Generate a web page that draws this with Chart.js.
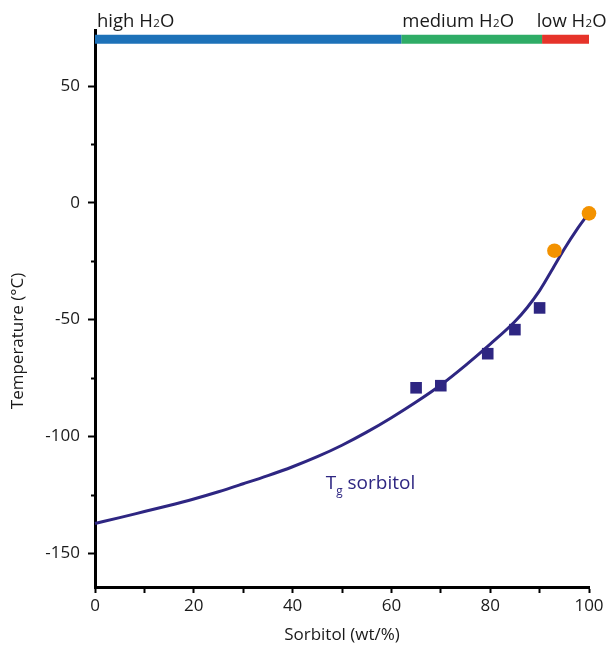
<!DOCTYPE html>
<html lang="en">
	<head>
		<meta charset="utf-8">
		<title>Sorbitol glass transition</title>
		<script src="https://cdn.jsdelivr.net/npm/chart.js"></script>
		<style>
			html, body { margin: 0; padding: 0; background: #fff; }
			#wrap { width: 610px; height: 647px; position: relative; }
		</style>
	</head>
	<body>
		<div id="wrap"><canvas id="chart"></canvas></div>
		<script>
			// Tg curve of sorbitol (wt %, °C)
			const curveX = [0, 5, 10, 15, 20, 25, 30, 35, 40, 45, 50, 55, 60, 65, 70, 75, 80, 85, 87.5, 90, 92.5, 95, 97.5, 100]
			const curveY = [-137.3, -134.8, -132.2, -129.6, -126.8, -123.7, -120.3, -116.8, -113, -108.7, -103.8, -98.2, -92, -85.3, -78, -69.6, -60.5, -50.8, -44.8, -37.6, -28.8, -19.8, -11.6, -4.3]

			// measured points
			const squareX = [65, 70, 79.5, 85, 90]
			const squareY = [-79.2, -78.3, -64.6, -54.3, -45]
			const circleX = [93, 100]
			const circleY = [-20.5, -4.5]

			// water content regions along the top
			const regionEdges = [0, 62, 90.5, 100]
			const regionNames = ["high", "medium", "low"]
			const regionLabelX = [0.4, 62.2, 89.4]
			const regionColors = ["#1d71b8", "#2fac66", "#e6332a"]
			const regionLevel = 70

			const purple = "#2e2682"
			const orange = "#f39200"
			const ink = "#1a1a1a"
			const font = "'Open Sans', sans-serif"

			const toPoints = (xs, ys) => xs.map((x, i) => ({x: x, y: ys[i]}))

			const datasets = []
			regionNames.forEach((name, i) => {
				datasets.push({
					label: name,
					data: [{x: regionEdges[i], y: regionLevel}, {x: regionEdges[i + 1], y: regionLevel}],
					borderColor: regionColors[i],
					borderWidth: 9,
					borderCapStyle: "butt",
					pointRadius: 0,
					clip: false,
					order: 4
				})
			})
			datasets.push({
				label: "Tg",
				data: toPoints(curveX, curveY),
				borderColor: purple,
				borderWidth: 3,
				cubicInterpolationMode: "monotone",
				pointRadius: 0,
				clip: false,
				order: 3
			})
			datasets.push({
				label: "squares",
				data: toPoints(squareX, squareY),
				showLine: false,
				pointStyle: "rect",
				pointRadius: 8.2,
				pointBackgroundColor: purple,
				pointBorderWidth: 0,
				clip: false,
				order: 2
			})
			datasets.push({
				label: "circles",
				data: toPoints(circleX, circleY),
				showLine: false,
				pointStyle: "circle",
				pointRadius: 7.3,
				pointBackgroundColor: orange,
				pointBorderWidth: 0,
				clip: false,
				order: 1
			})

			// draws a run of text pieces, some of them as small subscripts
			function drawRuns(ctx, x, y, runs, size, color) {
				ctx.save()
				ctx.fillStyle = color
				ctx.textBaseline = "alphabetic"
				ctx.textAlign = "left"
				runs.forEach(r => {
					const s = r.sub ? size * 0.62 : size
					ctx.font = s + "px " + font
					ctx.fillText(r.t, x, y + (r.drop || 0))
					x += ctx.measureText(r.t).width + (r.gap || 0)
				})
				ctx.restore()
			}

			const labelsPlugin = {
				id: "labels",
				afterDatasetsDraw(chart) {
					const ctx = chart.ctx
					const xs = chart.scales.x
					const ys = chart.scales.y
					const top = ys.getPixelForValue(regionLevel) - 12
					regionNames.forEach((name, i) => {
						drawRuns(ctx, xs.getPixelForValue(regionLabelX[i]), top, [
							{t: name + " H", gap: 0.3}, {t: "2", sub: true, gap: 0.3}, {t: "O"}
						], 18.5, ink)
					})
					drawRuns(ctx, xs.getPixelForValue(46.7), ys.getPixelForValue(-120) + 6, [
						{t: "T"}, {t: "g", sub: true, drop: 6, gap: 5}, {t: "sorbitol"}
					], 19, purple)

					// short minor ticks on the temperature axis
					ctx.save()
					ctx.strokeStyle = "#000"
					ctx.lineWidth = 2
					ys.ticks.forEach(t => {
						if (t.value % 50 === 0) return
						const py = Math.round(ys.getPixelForValue(t.value)) + 0.5
						ctx.beginPath()
						ctx.moveTo(ys.right - 4, py)
						ctx.lineTo(ys.right, py)
						ctx.stroke()
					})

					// temperature axis title
					ctx.translate(18, 341)
					ctx.rotate(-Math.PI / 2)
					ctx.fillStyle = ink
					ctx.font = "17px " + font
					ctx.textAlign = "center"
					ctx.textBaseline = "middle"
					ctx.fillText("Temperature (°C)", 0, 0)
					ctx.restore()
				}
			}

			new Chart(document.getElementById("chart").getContext("2d"), {
				type: "line",
				data: {datasets: datasets},
				options: {
					responsive: true,
					maintainAspectRatio: false,
					animation: false,
					layout: {padding: {top: 30, right: 21, left: 0, bottom: 0}},
					plugins: {
						legend: {display: false},
						tooltip: {enabled: false}
					},
					scales: {
						x: {
							type: "linear",
							min: 0,
							max: 100,
							afterFit: s => { s.height = 60 },
							border: {display: true, color: "#000", width: 3},
							grid: {drawOnChartArea: false, tickLength: 6, tickWidth: 2, tickColor: "#000"},
							ticks: {
								stepSize: 10,
								padding: 3,
								color: ink,
								font: {family: font, size: 17},
								maxRotation: 0,
								callback: v => v % 20 === 0 ? v : ""
							},
							title: {
								display: true,
								text: "Sorbitol (wt/%)",
								color: ink,
								font: {family: font, size: 17},
								padding: {top: 0, bottom: 2}
							}
						},
						y: {
							min: -164.5,
							max: 74,
							afterFit: s => { s.width = 95 },
							afterBuildTicks: s => { s.ticks = s.ticks.filter(t => t.value % 25 === 0) },
							border: {display: true, color: "#000", width: 3},
							grid: {
								drawOnChartArea: false,
								tickLength: 7,
								tickWidth: 2,
								tickColor: c => c.tick && c.tick.value % 50 === 0 ? "#000" : "rgba(0,0,0,0)"
							},
							ticks: {
								stepSize: 25,
								padding: 8,
								color: ink,
								font: {family: font, size: 17},
								callback: v => v % 50 === 0 ? v : ""
							}
						}
					}
				},
				plugins: [labelsPlugin]
			})
		</script>
	</body>
</html>
